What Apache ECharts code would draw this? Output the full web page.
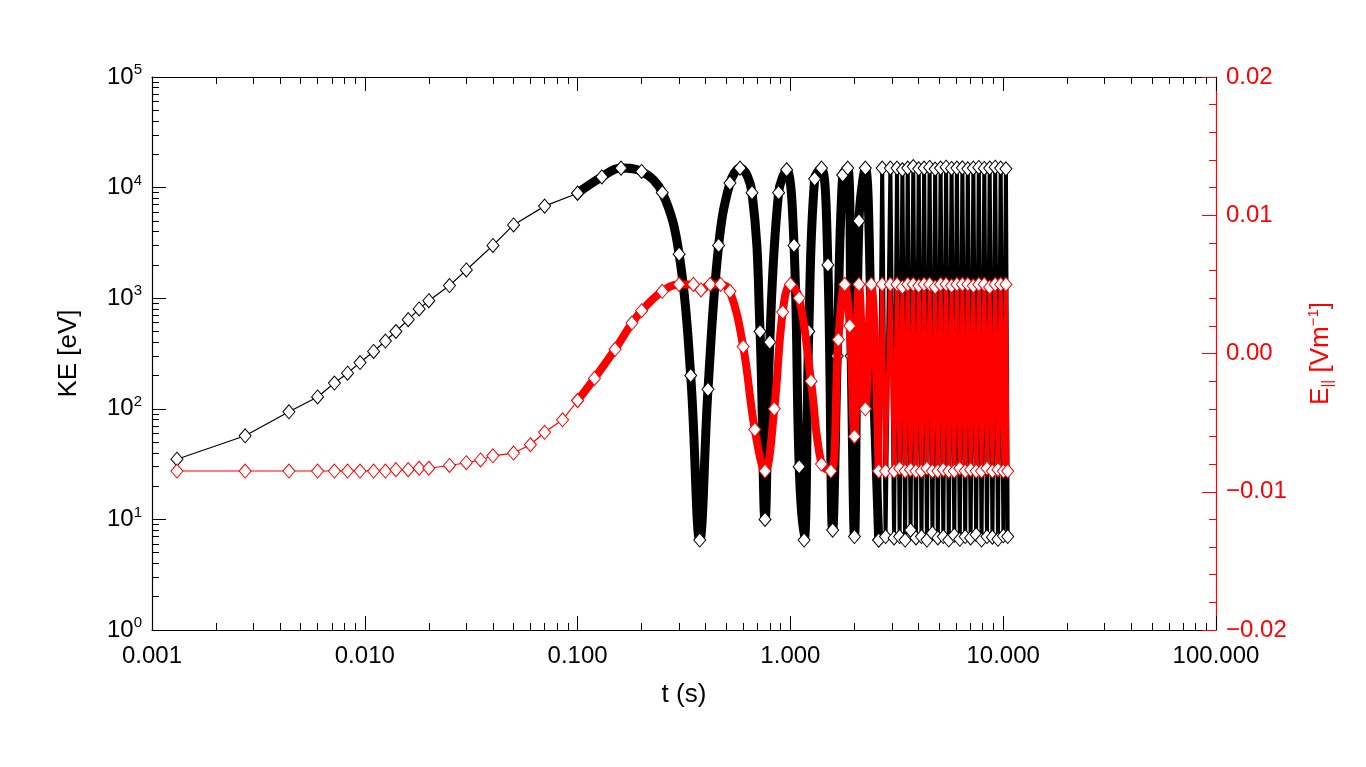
<!DOCTYPE html>
<html><head><meta charset="utf-8">
<script src="https://cdn.jsdelivr.net/npm/echarts@6/dist/echarts.min.js"></script>
<style>html,body{margin:0;padding:0;background:#fff}#c{width:1366px;height:767px}</style>
</head><body><div id="c"></div>
<script>
// Kinetic energy (eV) vs time (s)
const tKE = [0.00131,0.00274,0.0044,0.006,0.0072,0.0083,0.0095,0.011,0.0125,0.014,0.016,0.018,0.02,0.025,0.03,0.04,0.05,0.07,0.1,0.13,0.16,0.2,0.25,0.3,0.34,0.375,0.41,0.46,0.52,0.58,0.66,0.72,0.76,0.8,0.88,0.96,1.04,1.1,1.16,1.22,1.3,1.4,1.5,1.58,1.66,1.76,1.86,1.93,2.0,2.1,2.25,2.4,2.6,2.7,2.8,2.95,
  3.07,3.17,3.26,3.36,3.46,3.56,3.67,3.78,3.89,4.01,4.13,4.25,4.38,4.51,4.65,4.79,4.93,5.08,5.23,5.39,5.55,5.72,5.89,6.06,6.25,6.43,6.63,6.82,7.03,7.24,7.46,7.68,7.91,8.15,8.39,8.64,8.9,9.17,9.45,9.73,10.02,10.3,10.5];
const ke = [35,57,94,128,171,210,262,330,410,500,640,800,950,1300,1800,3000,4600,6800,8900,12500,15000,14000,9000,2500,200,6.5,150,3000,11000,15000,9000,500,10,400,9000,14500,3000,30,6.5,500,12000,15000,2000,8,300,13000,15000,300,7,5000,15000,600,6.5,15000,7,15000,
  6.8,15000,7,14500,6.5,15000,8,15500,6.8,14800,7,15000,6.5,15200,7.5,14700,6.8,15000,7,15300,6.5,14900,7.2,15000,6.6,15100,7,14800,6.8,15000,7.3,15200,6.5,14900,7,15000,6.9,15300,6.6,15000,7.1,14800,7];
// Parallel electric field (V/m) vs time (s)
const tE = [0.00131,0.00274,0.0044,0.006,0.0072,0.0083,0.0095,0.011,0.0125,0.014,0.016,0.018,0.02,0.025,0.03,0.035,0.04,0.05,0.06,0.07,0.085,0.1,0.12,0.15,0.18,0.2,0.25,0.3,0.35,0.38,0.42,0.47,0.52,0.6,0.68,0.76,0.84,0.92,1.0,1.1,1.25,1.4,1.55,1.68,1.8,1.9,2.0,2.1,2.25,2.4,2.6,2.7,2.8,2.95,
  3.07,3.17,3.26,3.36,3.46,3.56,3.67,3.78,3.89,4.01,4.13,4.25,4.38,4.51,4.65,4.79,4.93,5.08,5.23,5.39,5.55,5.72,5.89,6.06,6.25,6.43,6.63,6.82,7.03,7.24,7.46,7.68,7.91,8.15,8.39,8.64,8.9,9.17,9.45,9.73,10.02,10.3,10.5];
const eVals = [-0.0085,-0.0085,-0.0085,-0.0085,-0.0085,-0.0085,-0.0085,-0.0085,-0.0085,-0.0084,-0.0084,-0.0083,-0.0083,-0.0081,-0.0079,-0.0077,-0.0074,-0.0072,-0.0066,-0.0057,-0.0048,-0.0034,-0.0018,0.0003,0.0022,0.0031,0.0045,0.005,0.005,0.0046,0.005,0.005,0.0045,0.0005,-0.0055,-0.0085,-0.004,0.003,0.005,0.004,-0.002,-0.008,-0.0085,0.001,0.005,0.002,-0.006,0.005,-0.004,0.005,-0.0085,0.005,-0.0085,0.005,
  -0.0085,0.005,-0.0083,0.0048,-0.0085,0.005,-0.0084,0.005,-0.0085,0.0049,-0.0085,0.005,-0.0083,0.005,-0.0085,0.0048,-0.0085,0.005,-0.0084,0.005,-0.0085,0.0049,-0.0085,0.005,-0.0083,0.005,-0.0085,0.005,-0.0084,0.0049,-0.0085,0.005,-0.0085,0.005,-0.0083,0.0048,-0.0085,0.005,-0.0084,0.005,-0.0085,0.005,-0.0085];

const font = 'Liberation Sans, Arial, sans-serif';
const chart = echarts.init(document.getElementById('c'));
const sup = {b:{fontSize:24,fontFamily:font,color:'#000'},s:{fontSize:15,fontFamily:font,color:'#000',padding:[0,0,14,0]}};
const pts = (ts, vs) => ts.map((t,i)=>[t,vs[i]]);
const keP = pts(tKE, ke), eP = pts(tE, eVals);
const mk = (data, yi, color, width, smooth, z) => ({type:'line',xAxisIndex:0,yAxisIndex:yi,data,symbol:'diamond',symbolSize:[12,14],
  showAllSymbol:true,smooth,itemStyle:{color:'#fff',borderColor:color,borderWidth:1},lineStyle:{color,width},z});
const tickAx = (c) => ({axisLine:{show:true,onZero:false,lineStyle:{color:c,width:1.2}},
  axisTick:{inside:true,length:14,lineStyle:{color:c}},
  minorTick:{show:true,splitNumber:9,length:7,lineStyle:{color:c}},splitLine:{show:false}});
chart.setOption({
  animation:false,
  backgroundColor:'#fff',
  grid:{left:152,right:150,top:77,bottom:137,containLabel:false,show:false},
  xAxis:[Object.assign({type:'log',logBase:10,min:0.001,max:100,position:'bottom',
    name:'t (s)',nameLocation:'middle',nameGap:52,nameTextStyle:{fontSize:26,fontFamily:font,color:'#000'},
    axisLabel:{fontSize:24,fontFamily:font,color:'#000',margin:14,formatter:v=>Number(v).toFixed(3)}},tickAx('#000')),
   Object.assign({type:'log',logBase:10,min:0.001,max:100,position:'top',axisLabel:{show:false}},tickAx('#000'))],
  yAxis:[Object.assign({type:'log',logBase:10,min:1,max:100000,position:'left',
    name:'KE [eV]',nameLocation:'middle',nameGap:70,nameTextStyle:{fontSize:26,fontFamily:font,color:'#000'},
    axisLabel:{margin:10,rich:sup,formatter:v=>'{b|10}{s|'+Math.round(Math.log10(v))+'}'}},tickAx('#000')),
   Object.assign({type:'value',min:-0.02,max:0.02,interval:0.01,position:'right',
    name:'{a|E}{sub|||}{a| [Vm}{sup|−1}{a|]}',nameLocation:'middle',nameGap:90,nameRotate:90,
    nameTextStyle:{color:'#f00',rich:{a:{fontSize:26,fontFamily:font,color:'#f00'},sub:{fontSize:15,fontFamily:font,color:'#f00',padding:[14,0,0,0]},sup:{fontSize:15,fontFamily:font,color:'#f00',padding:[0,0,14,0]}}},
    axisLabel:{fontSize:24,fontFamily:font,color:'#f00',margin:10,formatter:v=>{const s=Math.abs(v).toFixed(2);return v<-1e-9?'−'+s:s;}}},
    tickAx('#f00'),{minorTick:{show:true,splitNumber:5,length:7,lineStyle:{color:'#f00'}}})],
  series:[
    mk(keP.slice(0,19),0,'#000',1.2,false,2),
    mk(keP.slice(18,53),0,'#000',9,0.4,2),
    mk(keP.slice(52),0,'#000',4,false,2),
    mk(eP.slice(0,22),1,'#f00',1.2,false,3),
    mk(eP.slice(21,51),1,'#f00',8,0.4,3),
    mk(eP.slice(50),1,'#f00',4,false,3)
  ]
});
</script></body></html>
